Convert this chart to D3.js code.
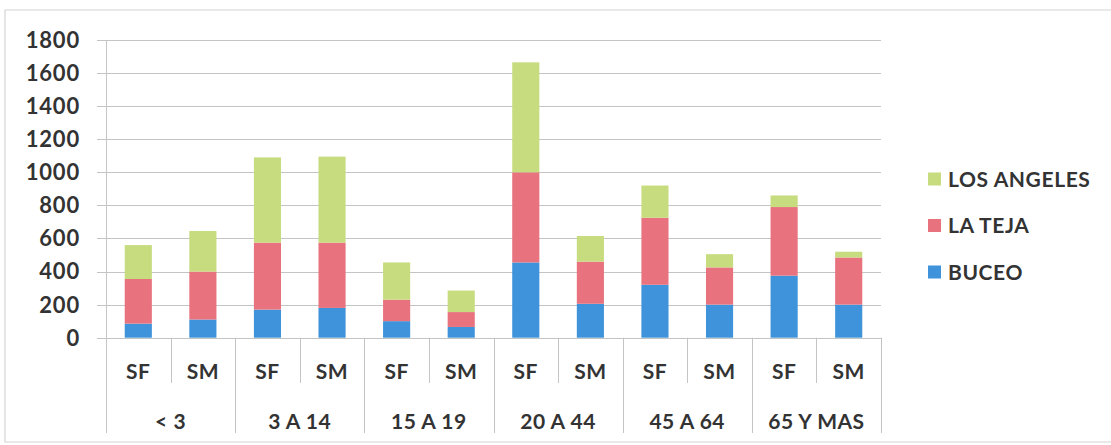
<!DOCTYPE html>
<html>
<head>
<meta charset="utf-8">
<script src="https://cdn.jsdelivr.net/npm/d3@7/dist/d3.min.js"></script>
<style>
  html, body { margin: 0; padding: 0; background: #ffffff; }
  svg { display: block; }
  text { font-family: Lato, "Open Sans", sans-serif; font-weight: 700; fill: #333333; }
</style>
</head>
<body>
<svg id="chart" width="1111" height="445"></svg>
<script>
// Age groups and the two sub-columns shown under each group
const categories = ["< 3", "3 A 14", "15 A 19", "20 A 44", "45 A 64", "65 Y MAS"];
const subgroups = ["SF", "SM"];

// Stacked series, one value per column (SF, SM for each age group in order)
const seriesNames = ["BUCEO", "LA TEJA", "LOS ANGELES"];
const buceo      = [85, 110, 170, 180, 100, 65, 455, 205, 320, 200, 375, 200];
const laTeja     = [270, 290, 405, 395, 130, 90, 545, 255, 405, 225, 415, 285];
const losAngeles = [205, 245, 515, 520, 225, 130, 665, 155, 195, 80, 70, 35];

const yTicks = [0, 200, 400, 600, 800, 1000, 1200, 1400, 1600, 1800];
const colors = { "BUCEO": "#3f93da", "LA TEJA": "#e8737f", "LOS ANGELES": "#c7dc7e" };

// Build one row per column for d3.stack
const rows = [];
categories.forEach((c, ci) => {
  subgroups.forEach((s, si) => {
    const i = ci * subgroups.length + si;
    rows.push({ key: c + "|" + s, cat: c, sub: s,
      "BUCEO": buceo[i], "LA TEJA": laTeja[i], "LOS ANGELES": losAngeles[i] });
  });
});

const svg = d3.select("#chart");
const plotLeft = 106, plotRight = 881, plotTop = 40, plotBottom = 337.7;

// Outer chart frame
svg.append("path")
  .attr("d", "M1111,10 L5,10 L5,442 L1111,442")
  .attr("fill", "none").attr("stroke", "#d4d4d4").attr("stroke-width", 1.2);

const x = d3.scaleBand()
  .domain(rows.map(d => d.key))
  .range([plotLeft, plotRight])
  .paddingInner(0.58)
  .paddingOuter(0.29);

const y = d3.scaleLinear().domain([0, 1800]).range([plotBottom, plotTop]);

// Horizontal gridlines, starting at the outside tick mark
svg.append("g").selectAll("line").data(yTicks).join("line")
  .attr("x1", plotLeft - 9).attr("x2", plotRight)
  .attr("y1", d => Math.round(y(d)) + 0.5).attr("y2", d => Math.round(y(d)) + 0.5)
  .attr("stroke", "#c4c4c4").attr("stroke-width", 1);

// Value axis line
svg.append("line")
  .attr("x1", plotLeft + 0.5).attr("x2", plotLeft + 0.5)
  .attr("y1", plotTop).attr("y2", 433)
  .attr("stroke", "#c4c4c4");

// Y tick labels
svg.append("g").selectAll("text").data(yTicks).join("text")
  .attr("x", 80).attr("y", d => y(d))
  .attr("dy", "0.36em")
  .attr("text-anchor", "end")
  .style("font-size", "22px")
  .style("letter-spacing", "0.8px")
  .text(d => d);

// Stacked bars
const stack = d3.stack().keys(seriesNames);
const stacked = stack(rows);
svg.append("g").selectAll("g").data(stacked).join("g")
  .attr("fill", d => colors[d.key])
  .selectAll("rect").data(d => d).join("rect")
  .attr("x", d => x(d.data.key))
  .attr("width", x.bandwidth())
  .attr("y", d => y(d[1]))
  .attr("height", d => y(d[0]) - y(d[1]));

// Category axis: separators between sub-columns and between groups
const step = x.step();
const seps = [];
rows.forEach((r, i) => {
  if (i === 0) return;
  seps.push({ x: plotLeft + i * step, group: i % subgroups.length === 0 });
});
seps.push({ x: plotRight, group: true });
svg.append("g").selectAll("line").data(seps).join("line")
  .attr("x1", d => Math.round(d.x) + 0.5).attr("x2", d => Math.round(d.x) + 0.5)
  .attr("y1", plotBottom).attr("y2", d => d.group ? 433 : 383)
  .attr("stroke", "#c4c4c4");

// Sub-column labels
svg.append("g").selectAll("text").data(rows).join("text")
  .attr("x", d => x(d.key) + x.bandwidth() / 2)
  .attr("y", 371).attr("dy", "0.36em")
  .attr("text-anchor", "middle")
  .style("font-size", "21px")
  .style("letter-spacing", "0.5px")
  .text(d => d.sub);

// Age group labels
svg.append("g").selectAll("text").data(categories).join("text")
  .attr("x", (d, i) => plotLeft + (i * subgroups.length + subgroups.length / 2) * step)
  .attr("y", 421).attr("dy", "0.36em")
  .attr("text-anchor", "middle")
  .style("font-size", "21px")
  .style("letter-spacing", "0.5px")
  .text(d => d);

// Legend (top to bottom: last series first)
const legendItems = seriesNames.slice().reverse();
const lg = svg.append("g").selectAll("g").data(legendItems).join("g")
  .attr("transform", (d, i) => `translate(928, ${179 + i * 46.5})`);
lg.append("rect")
  .attr("x", 0).attr("y", -6.5).attr("width", 13).attr("height", 13)
  .attr("fill", d => colors[d]);
lg.append("text")
  .attr("x", 20).attr("y", 0).attr("dy", "0.36em")
  .style("font-size", "21px")
  .style("letter-spacing", "0.6px")
  .text(d => d);
</script>
</body>
</html>
